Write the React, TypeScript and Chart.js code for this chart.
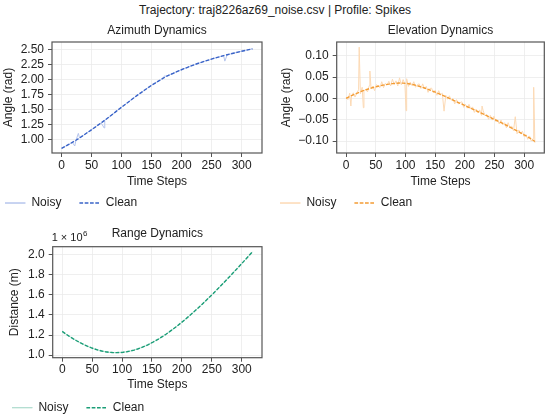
import { useEffect, useRef } from "react";
import { Chart, registerables } from "chart.js";

Chart.register(...registerables);

const FONT = "'Liberation Sans', Arial, sans-serif";
const SUPTITLE = "Trajectory: traj8226az69_noise.csv | Profile: Spikes";

// time steps of the sampled clean curves
const cleanSteps = [0, 6, 12, 18, 24, 30, 36, 42, 48, 54, 60, 66, 72, 78, 84, 90, 96, 102, 108, 114, 120, 126, 132, 138, 144, 150, 156, 162, 168, 174, 180, 186, 192, 198, 204, 210, 216, 222, 228, 234, 240, 246, 252, 258, 264, 270, 276, 282, 288, 294, 300, 306, 312, 318];

// Azimuth (rad)
const azClean = [0.860, 0.894, 0.927, 0.961, 0.996, 1.033, 1.075, 1.116, 1.156, 1.199, 1.242, 1.285, 1.328, 1.373, 1.420, 1.467, 1.514, 1.560, 1.606, 1.651, 1.697, 1.742, 1.784, 1.826, 1.868, 1.910, 1.946, 1.982, 2.018, 2.054, 2.082, 2.108, 2.135, 2.161, 2.185, 2.208, 2.231, 2.254, 2.275, 2.294, 2.313, 2.332, 2.351, 2.368, 2.384, 2.401, 2.417, 2.432, 2.446, 2.460, 2.475, 2.488, 2.501, 2.514];
const azNoisy = [0.858, 0.896, 0.925, 0.962, 0.994, 1.035, 1.073, 1.117, 1.158, 1.197, 1.243, 1.284, 1.330, 1.371, 1.421, 1.466, 1.516, 1.559, 1.607, 1.650, 1.698, 1.741, 1.786, 1.825, 1.869, 1.909, 1.947, 1.981, 2.019, 2.053, 2.083, 2.107, 2.136, 2.160, 2.186, 2.207, 2.232, 2.253, 2.276, 2.293, 2.314, 2.331, 2.352, 2.367, 2.385, 2.400, 2.418, 2.431, 2.447, 2.459, 2.476, 2.487, 2.502, 2.515];
const azSpikeSteps = [22, 28, 71, 172, 272];
const azSpikeValues = [0.900, 1.110, 1.200, 2.070, 2.310];

// Elevation (rad)
const elClean = [0.0000, 0.0042, 0.0082, 0.0118, 0.0154, 0.0186, 0.0214, 0.0240, 0.0263, 0.0284, 0.0303, 0.0320, 0.0334, 0.0346, 0.0354, 0.0358, 0.0356, 0.0349, 0.0336, 0.0318, 0.0296, 0.0270, 0.0242, 0.0212, 0.0180, 0.0145, 0.0110, 0.0074, 0.0037, -0.0002, -0.0040, -0.0078, -0.0116, -0.0155, -0.0193, -0.0232, -0.0270, -0.0309, -0.0348, -0.0387, -0.0427, -0.0467, -0.0507, -0.0547, -0.0588, -0.0630, -0.0673, -0.0717, -0.0762, -0.0808, -0.0855, -0.0903, -0.0952, -0.1010];
const elNoisySteps = [0, 3, 6, 9, 12, 15, 18, 21, 24, 27, 30, 33, 36, 39, 42, 45, 48, 51, 54, 57, 60, 63, 66, 69, 72, 75, 78, 81, 84, 87, 90, 93, 96, 99, 102, 105, 108, 111, 114, 117, 120, 123, 126, 129, 132, 135, 138, 141, 144, 147, 150, 153, 156, 159, 162, 165, 168, 171, 174, 177, 180, 183, 186, 189, 192, 195, 198, 201, 204, 207, 210, 213, 216, 219, 222, 225, 228, 231, 234, 237, 240, 243, 246, 249, 252, 255, 258, 261, 264, 267, 270, 273, 276, 279, 282, 285, 288, 291, 294, 297, 300, 303, 306, 309, 312, 315, 318];
const elNoisy = [
  0.003, -0.003, 0.012, 0.004, 0.013, 0.003, 0.013, 0.020, 0.011, 0.026,
  0.016, 0.022, 0.015, 0.030, 0.023, 0.029, 0.018, 0.032, 0.029, 0.025,
  0.039, 0.025, 0.035, 0.031, 0.040, 0.029, 0.045, 0.032, 0.041, 0.029,
  0.048, 0.032, 0.044, 0.033, 0.046, 0.028, 0.038, 0.030, 0.039, 0.026,
  0.032, 0.034, 0.023, 0.034, 0.022, 0.028, 0.014, 0.023, 0.024, 0.013,
  0.019, 0.007, 0.018, 0.008, 0.012, 0.001, 0.007, -0.002, 0.006, -0.004,
  0.000, -0.013, -0.003, -0.013, -0.010, -0.008, -0.021, -0.014, -0.023, -0.014,
  -0.025, -0.020, -0.033, -0.025, -0.034, -0.027, -0.040, -0.029, -0.041, -0.038,
  -0.049, -0.040, -0.051, -0.042, -0.054, -0.051, -0.060, -0.051, -0.062, -0.057,
  -0.069, -0.057, -0.069, -0.065, -0.076, -0.071, -0.083, -0.074, -0.083, -0.077,
  -0.090, -0.085, -0.096, -0.088, -0.100, -0.094, -0.104
];
const elSpikeSteps = [8, 22, 29, 40, 101, 165, 229, 285, 316];
const elSpikeValues = [-0.018, 0.120, -0.022, 0.064, -0.029, -0.030, -0.018, -0.043, 0.026];

// Range (m)
const rangeClean = [1235500, 1210400, 1186600, 1164100, 1143000, 1123400, 1105400, 1089000, 1074300, 1061500, 1050500, 1041400, 1034200, 1029100, 1026000, 1025000, 1026000, 1029100, 1034200, 1041400, 1050500, 1061500, 1074300, 1089000, 1105400, 1123400, 1143000, 1164100, 1186600, 1210400, 1235500, 1261700, 1289100, 1317500, 1346900, 1377200, 1408300, 1440200, 1472900, 1506300, 1540300, 1574900, 1610100, 1645800, 1682100, 1718800, 1755900, 1793400, 1831300, 1869600, 1908300, 1947200, 1986500, 2026000];
const rangeNoisy = [1235900, 1210100, 1186900, 1163800, 1143300, 1123100, 1105700, 1088700, 1074600, 1061200, 1050800, 1041100, 1034500, 1028800, 1026300, 1024700, 1026300, 1028800, 1034500, 1041100, 1050800, 1061200, 1074600, 1088700, 1105700, 1123100, 1143300, 1163800, 1186900, 1210100, 1235800, 1261400, 1289400, 1317200, 1347200, 1376900, 1408600, 1439900, 1473200, 1506000, 1540600, 1574600, 1610400, 1645500, 1682400, 1718500, 1756200, 1793100, 1831600, 1869300, 1908600, 1946900, 1986800, 2025700];

// tick labels
const xTicks = [0, 50, 100, 150, 200, 250, 300];
const azTicks = [1.0, 1.25, 1.5, 1.75, 2.0, 2.25, 2.5];
const elTicks = [-0.1, -0.05, 0, 0.05, 0.1];
const rangeTicks = [1.0e6, 1.2e6, 1.4e6, 1.6e6, 1.8e6, 2.0e6];

type Pt = { x: number; y: number };

function makeSeries(steps: number[], values: number[], spikeSteps: number[] = [], spikeValues: number[] = []): Pt[] {
  const pts: Pt[] = steps
    .map((s, i) => ({ x: s, y: values[i] }))
    .filter((p) => !spikeSteps.includes(p.x));
  spikeSteps.forEach((s, i) => pts.push({ x: s, y: spikeValues[i] }));
  pts.sort((a, b) => a.x - b.x);
  return pts;
}

const minus = (s: string) => s.replace("-", "\u2212");

type PanelCfg = {
  left: number; top: number; width: number; height: number;
  yWidth: number; yTitlePad: number; padRight: number; padBottom: number;
  titlePadTop: number; titlePadBottom: number; xTickPad: number; xHeight: number; xTitlePadBottom: number;
  title: string; yTitle: string; yMin: number; yMax: number; yTicks: number[];
  yFmt: (v: number) => string;
  noisy: Pt[]; clean: Pt[]; color: string; noisyColor: string; offsetText?: boolean;
};

const frameAndOffset = {
  id: "frameAndOffset",
  afterDraw(chart: any, _args: any, opts: any) {
    const { ctx, chartArea } = chart;
    ctx.save();
    ctx.strokeStyle = "#555555";
    ctx.lineWidth = 1.2;
    ctx.strokeRect(chartArea.left, chartArea.top, chartArea.right - chartArea.left, chartArea.bottom - chartArea.top);
    if (opts && opts.offsetText) {
      ctx.fillStyle = "#222222";
      ctx.textBaseline = "middle";
      ctx.textAlign = "left";
      ctx.font = `11px ${FONT}`;
      const base = "1 \u00d7 10";
      const x0 = chartArea.left - 1;
      const y0 = chartArea.top - 8.5;
      ctx.fillText(base, x0, y0);
      const w = ctx.measureText(base).width;
      ctx.font = `8px ${FONT}`;
      ctx.fillText("6", x0 + w + 0.5, y0 - 4);
    }
    ctx.restore();
  },
};

function Panel({ cfg }: { cfg: PanelCfg }) {
  const ref = useRef<HTMLCanvasElement | null>(null);
  useEffect(() => {
    if (!ref.current) return;
    const chart = new Chart(ref.current, {
      type: "line",
      data: {
        datasets: [
          {
            label: "Noisy",
            data: cfg.noisy,
            borderColor: cfg.noisyColor,
            backgroundColor: cfg.noisyColor,
            borderWidth: 1,
            pointRadius: 0,
            tension: 0,
            order: 1,
          },
          {
            label: "Clean",
            data: cfg.clean,
            borderColor: cfg.color,
            backgroundColor: cfg.color,
            borderWidth: 1.4,
            borderDash: [3.7, 1.6],
            pointRadius: 0,
            tension: 0,
            order: 0,
          },
        ],
      },
      options: {
        responsive: false,
        animation: false,
        events: [],
        layout: { padding: { left: 0, top: 0, right: cfg.padRight, bottom: cfg.padBottom } },
        plugins: {
          tooltip: { enabled: false },
          title: {
            display: true,
            fullSize: false,
            text: cfg.title,
            color: "#222222",
            font: { family: FONT, size: 12, weight: "normal" },
            padding: { top: cfg.titlePadTop, bottom: cfg.titlePadBottom },
          },
          legend: {
            display: true,
            position: "bottom",
            align: "start",
            labels: {
              color: "#222222",
              font: { family: FONT, size: 12 },
              usePointStyle: false,
              boxWidth: 20.4,
              boxHeight: 0,
              padding: 18,
              sort: (a: any, b: any) => a.datasetIndex - b.datasetIndex,
            },
          },
          frameAndOffset: { offsetText: !!cfg.offsetText },
        } as any,
        scales: {
          x: {
            type: "linear",
            min: -15.9,
            max: 333.9,
            afterFit: (s: any) => { s.height = cfg.xHeight; },
            afterBuildTicks: (s: any) => { s.ticks = xTicks.map((v) => ({ value: v })); },
            ticks: {
              color: "#222222",
              font: { family: FONT, size: 12 },
              padding: cfg.xTickPad,
              maxRotation: 0,
              autoSkip: false,
              callback: (v: any) => String(v),
            },
            grid: { color: "#ebebeb", lineWidth: 0.8, tickColor: "#555555", tickLength: 4, tickWidth: 1 },
            border: { display: false },
            title: {
              display: true,
              text: "Time Steps",
              color: "#222222",
              font: { family: FONT, size: 12 },
              padding: { top: 0, bottom: cfg.xTitlePadBottom },
            },
          },
          y: {
            type: "linear",
            min: cfg.yMin,
            max: cfg.yMax,
            afterFit: (s: any) => { s.width = cfg.yWidth; },
            afterBuildTicks: (s: any) => { s.ticks = cfg.yTicks.map((v) => ({ value: v })); },
            ticks: {
              color: "#222222",
              font: { family: FONT, size: 12 },
              padding: 4,
              autoSkip: false,
              callback: (v: any) => cfg.yFmt(Number(v)),
            },
            grid: { color: "#ebebeb", lineWidth: 0.8, tickColor: "#555555", tickLength: 4, tickWidth: 1 },
            border: { display: false },
            title: {
              display: true,
              text: cfg.yTitle,
              color: "#222222",
              font: { family: FONT, size: 12 },
              padding: { top: cfg.yTitlePad, bottom: 0 },
            },
          },
        },
      } as any,
      plugins: [frameAndOffset],
    });
    return () => chart.destroy();
  }, [cfg]);
  return (
    <canvas
      ref={ref}
      width={cfg.width}
      height={cfg.height}
      style={{ position: "absolute", left: cfg.left, top: cfg.top, width: cfg.width, height: cfg.height }}
    />
  );
}

const panels: PanelCfg[] = [
  {
    left: -13, top: 0, width: 288, height: 222,
    yWidth: 65, yTitlePad: 14.1, padRight: 13, padBottom: 3,
    titlePadTop: 23.8, titlePadBottom: 3.8, xTickPad: 1.5, xHeight: 26, xTitlePadBottom: -9.9,
    title: "Azimuth Dynamics", yTitle: "Angle (rad)", yMin: 0.784, yMax: 2.628, yTicks: azTicks,
    yFmt: (v) => v.toFixed(2),
    noisy: makeSeries(cleanSteps, azNoisy, azSpikeSteps, azSpikeValues),
    clean: makeSeries(cleanSteps, azClean),
    color: "#3a64c8", noisyColor: "#b6c5ec",
  },
  {
    left: 262, top: 0, width: 288, height: 222,
    yWidth: 74.7, yTitlePad: 17.5, padRight: 5.7, padBottom: 3,
    titlePadTop: 23.8, titlePadBottom: 3.8, xTickPad: 1.5, xHeight: 26, xTitlePadBottom: -9.9,
    title: "Elevation Dynamics", yTitle: "Angle (rad)", yMin: -0.128, yMax: 0.132, yTicks: elTicks,
    yFmt: (v) => minus(v.toFixed(2)),
    noisy: makeSeries(elNoisySteps, elNoisy, elSpikeSteps, elSpikeValues),
    clean: makeSeries(cleanSteps, elClean),
    color: "#f39c34", noisyColor: "#fcd9b4",
  },
  {
    left: -6, top: 200, width: 280, height: 227,
    yWidth: 58.7, yTitlePad: 13.8, padRight: 12, padBottom: 3.3,
    titlePadTop: 26.8, titlePadBottom: 5.5, xTickPad: 1.1, xHeight: 26, xTitlePadBottom: -8.5,
    title: "Range Dynamics", yTitle: "Distance (m)", yMin: 0.975e6, yMax: 2.076e6, yTicks: rangeTicks,
    yFmt: (v) => (v / 1e6).toFixed(1),
    noisy: makeSeries(cleanSteps, rangeNoisy),
    clean: makeSeries(cleanSteps, rangeClean),
    color: "#1b9e77", noisyColor: "#b2ddd0", offsetText: true,
  },
];

export default function App() {
  return (
    <div
      style={{
        position: "fixed",
        left: 0,
        top: 0,
        width: 550,
        height: 417,
        overflow: "hidden",
        background: "#ffffff",
        fontFamily: FONT,
      }}
    >
      <div
        style={{
          position: "absolute",
          left: 0,
          top: 3,
          width: 550,
          textAlign: "center",
          fontSize: 12,
          lineHeight: "14px",
          color: "#222222",
        }}
      >
        {SUPTITLE}
      </div>
      {panels.map((p, i) => (
        <Panel key={i} cfg={p} />
      ))}
    </div>
  );
}
